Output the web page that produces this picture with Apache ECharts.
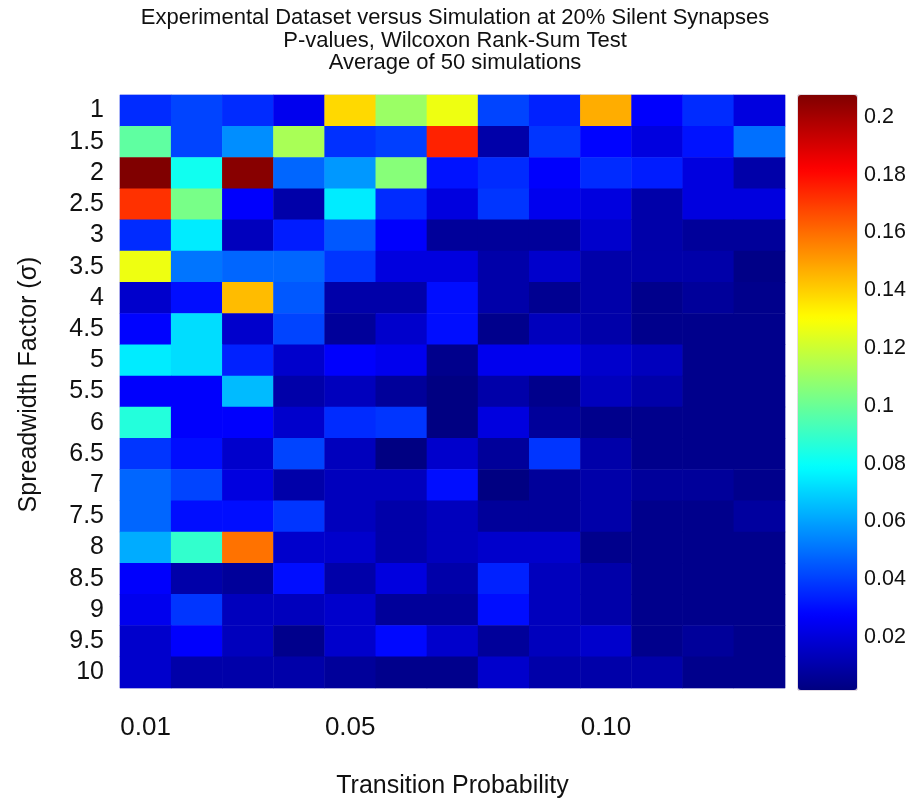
<!DOCTYPE html>
<html>
<head>
<meta charset="utf-8">
<script src="https://cdn.jsdelivr.net/npm/echarts@6/dist/echarts.min.js"></script>
<style>html,body{margin:0;padding:0;background:#fff}#c{width:912px;height:803px}</style>
</head>
<body>
<div id="c"></div>
<script>
// Transition probability categories (x) and spreadwidth factors (y)
const xCats = ['0.01','0.02','0.03','0.04','0.05','0.06','0.07','0.08','0.09','0.10','0.11','0.12','0.13'];
const xTickLabels = ['0.01','0.05','0.10'];
const yCats = ['1','1.5','2','2.5','3','3.5','4','4.5','5','5.5','6','6.5','7','7.5','8','8.5','9','9.5','10'];
const cbTicks = [0.02,0.04,0.06,0.08,0.1,0.12,0.14,0.16,0.18,0.2];
const cMin = 0.00165, cMax = 0.2076;

// P-values per spreadwidth row (columns = transition probability 0.01..0.13)
const s1_0  = [0.036,0.041,0.036,0.024,0.138,0.110,0.127,0.041,0.034,0.147,0.027,0.036,0.021];
const s1_5  = [0.098,0.041,0.056,0.113,0.037,0.040,0.175,0.010,0.038,0.028,0.021,0.031,0.050];
const s2_0  = [0.2075,0.082,0.206,0.048,0.058,0.106,0.031,0.036,0.027,0.036,0.033,0.021,0.010];
const s2_5  = [0.172,0.103,0.027,0.010,0.075,0.036,0.021,0.038,0.024,0.021,0.010,0.021,0.021];
const s3_0  = [0.036,0.075,0.014,0.033,0.045,0.027,0.007,0.007,0.007,0.017,0.010,0.007,0.007];
const s3_5  = [0.127,0.051,0.048,0.048,0.038,0.021,0.021,0.010,0.017,0.010,0.010,0.010,0.003];
const s4_0  = [0.017,0.030,0.144,0.045,0.010,0.010,0.030,0.010,0.005,0.010,0.004,0.007,0.004];
const s4_5  = [0.028,0.072,0.017,0.041,0.007,0.017,0.030,0.004,0.014,0.010,0.004,0.004,0.004];
const s5_0  = [0.075,0.072,0.034,0.017,0.027,0.024,0.004,0.024,0.024,0.017,0.014,0.004,0.004];
const s5_5  = [0.027,0.027,0.065,0.010,0.014,0.007,0.002,0.010,0.004,0.014,0.010,0.004,0.004];
const s6_0  = [0.086,0.027,0.027,0.017,0.036,0.038,0.002,0.021,0.007,0.004,0.004,0.004,0.004];
const s6_5  = [0.038,0.030,0.017,0.041,0.014,0.002,0.017,0.007,0.038,0.010,0.004,0.004,0.004];
const s7_0  = [0.048,0.041,0.021,0.010,0.014,0.014,0.030,0.002,0.007,0.010,0.007,0.007,0.004];
const s7_5  = [0.048,0.030,0.030,0.038,0.014,0.010,0.014,0.007,0.007,0.010,0.004,0.004,0.008];
const s8_0  = [0.062,0.089,0.159,0.017,0.017,0.010,0.014,0.017,0.017,0.004,0.004,0.004,0.004];
const s8_5  = [0.027,0.010,0.007,0.030,0.010,0.021,0.010,0.034,0.014,0.010,0.004,0.004,0.004];
const s9_0  = [0.024,0.038,0.014,0.014,0.017,0.007,0.007,0.030,0.014,0.010,0.004,0.004,0.004];
const s9_5  = [0.017,0.027,0.014,0.004,0.017,0.029,0.017,0.007,0.014,0.017,0.004,0.007,0.004];
const s10_0 = [0.017,0.010,0.010,0.010,0.007,0.004,0.004,0.017,0.010,0.010,0.010,0.004,0.004];

const rows = [s1_0,s1_5,s2_0,s2_5,s3_0,s3_5,s4_0,s4_5,s5_0,s5_5,s6_0,s6_5,s7_0,s7_5,s8_0,s8_5,s9_0,s9_5,s10_0];
const data = [];
rows.forEach((r, yi) => r.forEach((v, xi) => data.push([xi, yi, v])));

const jet = ['#000080','#0000ff','#0080ff','#00ffff','#80ff80','#ffff00','#ff8000','#ff0000','#800000'];
const FONT = 'Liberation Sans, Arial, sans-serif';

const chart = echarts.init(document.getElementById('c'), null, {renderer: 'canvas'});
chart.setOption({
  animation: false,
  backgroundColor: '#fff',
  title: {
    text: 'Experimental Dataset versus Simulation at 20% Silent Synapses\nP-values, Wilcoxon Rank-Sum Test\nAverage of 50 simulations',
    left: 455, top: 7, textAlign: 'center', padding: 0,
    textStyle: {fontFamily: FONT, fontWeight: 'normal', fontSize: 22, lineHeight: 22.5, color: '#111'}
  },
  grid: [
    {left: 120, top: 95, width: 665, height: 593, show: true, borderColor: '#c8c8e8', borderWidth: 1, backgroundColor: 'transparent', outerBoundsMode: 'none', containLabel: false},
    {left: 798, top: 95, width: 59, height: 595, show: true, borderColor: '#c8b8c8', borderWidth: 1, backgroundColor: 'transparent', outerBoundsMode: 'none', containLabel: false}
  ],
  xAxis: [
    {
      type: 'category', data: xCats, gridIndex: 0,
      axisLine: {show: false}, axisTick: {show: false}, splitLine: {show: false},
      axisLabel: {
        interval: 0, margin: 27, fontSize: 26, color: '#111', fontFamily: FONT,
        formatter: v => xTickLabels.includes(v) ? v : ''
      },
      name: 'Transition Probability', nameLocation: 'middle', nameGap: 86,
      nameTextStyle: {fontSize: 25, color: '#111', fontFamily: FONT}
    },
    {type: 'value', gridIndex: 1, show: false, min: 0, max: 1}
  ],
  yAxis: [
    {
      type: 'category', data: yCats, gridIndex: 0, inverse: true,
      axisLine: {show: false}, axisTick: {show: false}, splitLine: {show: false},
      axisLabel: {interval: 0, margin: 16, fontSize: 25, color: '#111', fontFamily: FONT},
      name: 'Spreadwidth Factor (σ)', nameLocation: 'middle', nameGap: 78, nameRotate: 90,
      nameTextStyle: {fontSize: 25, color: '#111', fontFamily: FONT, padding: [0, 0, 0, 14]}
    },
    {
      type: 'value', gridIndex: 1, position: 'right', min: cMin, max: cMax,
      axisLine: {show: false}, axisTick: {show: false}, splitLine: {show: false},
      axisLabel: {customValues: cbTicks, margin: 7, fontSize: 21.5, color: '#111', fontFamily: FONT,
        formatter: v => String(Math.round(v * 100) / 100)}
    }
  ],
  visualMap: {
    type: 'continuous', min: cMin, max: cMax, seriesIndex: 0,
    calculable: false, show: true, left: 798, top: 95, itemWidth: 59, itemHeight: 595,
    padding: 0, text: null, showLabel: false, hoverLink: false,
    inRange: {color: jet}
  },
  series: [{
    type: 'heatmap', xAxisIndex: 0, yAxisIndex: 0, data: data,
    itemStyle: {borderWidth: 0},
    emphasis: {disabled: true}
  }]
});
</script>
</body>
</html>
